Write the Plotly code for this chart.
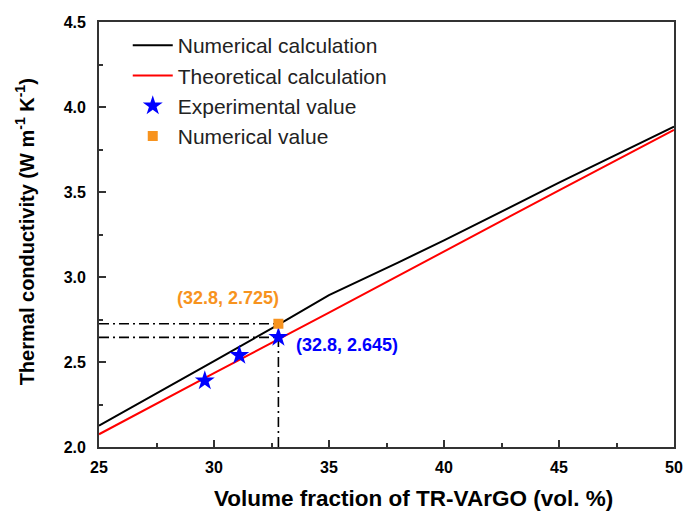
import plotly.graph_objects as go

# ---- data ----
num_x = [25, 28, 30, 32.8, 35, 38, 40, 45, 50]
num_y = [2.125, 2.35, 2.505, 2.72, 2.894, 3.085, 3.215, 3.555, 3.885]

theo_x = [25, 30, 35, 40, 45, 50]
theo_y = [2.075, 2.435, 2.79, 3.15, 3.51, 3.865]

exp_x = [29.6, 31.1, 32.8]
exp_y = [2.39, 2.54, 2.645]

numval_x = [32.8]
numval_y = [2.725]

x_range = [25, 50]
y_range = [2.0, 4.5]

FONT = "Liberation Sans, Arial, sans-serif"
ORANGE = "#F7931E"
BLUE = "#0000FF"

fig = go.Figure()

fig.add_trace(go.Scatter(x=num_x, y=num_y, mode="lines", name="Numerical calculation",
                         line=dict(color="black", width=2)))
fig.add_trace(go.Scatter(x=theo_x, y=theo_y, mode="lines", name="Theoretical calculation",
                         line=dict(color="#FF0000", width=2)))

# dash-dot guide lines (from the highlighted points to the axes)
px, py_num = numval_x[0], numval_y[0]
py_exp = exp_y[-1]
dd = dict(color="black", width=1.6, dash="10px,4px,2px,4px")
fig.add_trace(go.Scatter(x=[x_range[0], px], y=[py_num, py_num], mode="lines",
                         line=dd, showlegend=False, hoverinfo="skip"))
fig.add_trace(go.Scatter(x=[x_range[0], px], y=[py_exp, py_exp], mode="lines",
                         line=dd, showlegend=False, hoverinfo="skip"))
fig.add_trace(go.Scatter(x=[px, px], y=[y_range[0], py_exp], mode="lines",
                         line=dd, showlegend=False, hoverinfo="skip"))

fig.add_trace(go.Scatter(x=exp_x, y=exp_y, mode="markers", name="Experimental value",
                         marker=dict(symbol="star", size=15, color=BLUE,
                                     line=dict(width=0))))
fig.add_trace(go.Scatter(x=numval_x, y=numval_y, mode="markers", name="Numerical value",
                         marker=dict(symbol="square", size=10, color=ORANGE,
                                     line=dict(width=0))))

annotations = [
    dict(x=numval_x[0], y=numval_y[0], xref="x", yref="y",
         text=f"<b>({numval_x[0]}, {numval_y[0]})</b>", showarrow=False,
         xanchor="center", yanchor="middle", xshift=-50, yshift=26,
         font=dict(family=FONT, size=18, color=ORANGE)),
    dict(x=exp_x[-1], y=exp_y[-1], xref="x", yref="y",
         text=f"<b>({exp_x[-1]}, {exp_y[-1]})</b>", showarrow=False,
         xanchor="left", yanchor="middle", xshift=16, yshift=-8,
         font=dict(family=FONT, size=18, color=BLUE)),
    dict(x=0.547, y=-0.12, xref="paper", yref="paper",
         text="<b>Volume fraction of TR-VArGO (vol. %)</b>", showarrow=False,
         xanchor="center", yanchor="middle",
         font=dict(family=FONT, size=22.5, color="black")),
    dict(x=-0.128, y=0.506, xref="paper", yref="paper", textangle=-90,
         text="<b>Thermal conductivity (W m<sup>-1</sup> K<sup>-1</sup>)</b>",
         showarrow=False, xanchor="center", yanchor="middle",
         font=dict(family=FONT, size=20, color="black")),
]

axis_common = dict(
    showline=True, linecolor="#333333", linewidth=1.8, mirror=True,
    ticks="inside", ticklen=7, tickwidth=1.5, tickcolor="#333333",
    showgrid=False, zeroline=False,
    tickfont=dict(family=FONT, size=16, color="black", weight="bold"),
)

fig.update_layout(
    width=693, height=511,
    margin=dict(l=99, r=10, t=22, b=64),
    plot_bgcolor="white", paper_bgcolor="white",
    font=dict(family=FONT, color="black"),
    xaxis=dict(range=x_range, dtick=5, tick0=25,
               minor=dict(dtick=2.5, ticks="inside", ticklen=4, tickwidth=1.5,
                          tickcolor="#333333"),
               ticklabelstandoff=5, **axis_common),
    yaxis=dict(range=y_range, dtick=0.5, tick0=2.0, tickformat=".1f",
               minor=dict(dtick=0.25, ticks="inside", ticklen=4, tickwidth=1.5,
                          tickcolor="#333333"),
               ticklabelstandoff=8, **axis_common),
    legend=dict(x=0.05, y=0.993, xanchor="left", yanchor="top",
                bgcolor="rgba(0,0,0,0)", borderwidth=0,
                font=dict(family=FONT, size=21, color="#222222"),
                itemwidth=40, tracegroupgap=0),
    annotations=annotations,
    showlegend=True,
)

fig.write_html("out.html")
